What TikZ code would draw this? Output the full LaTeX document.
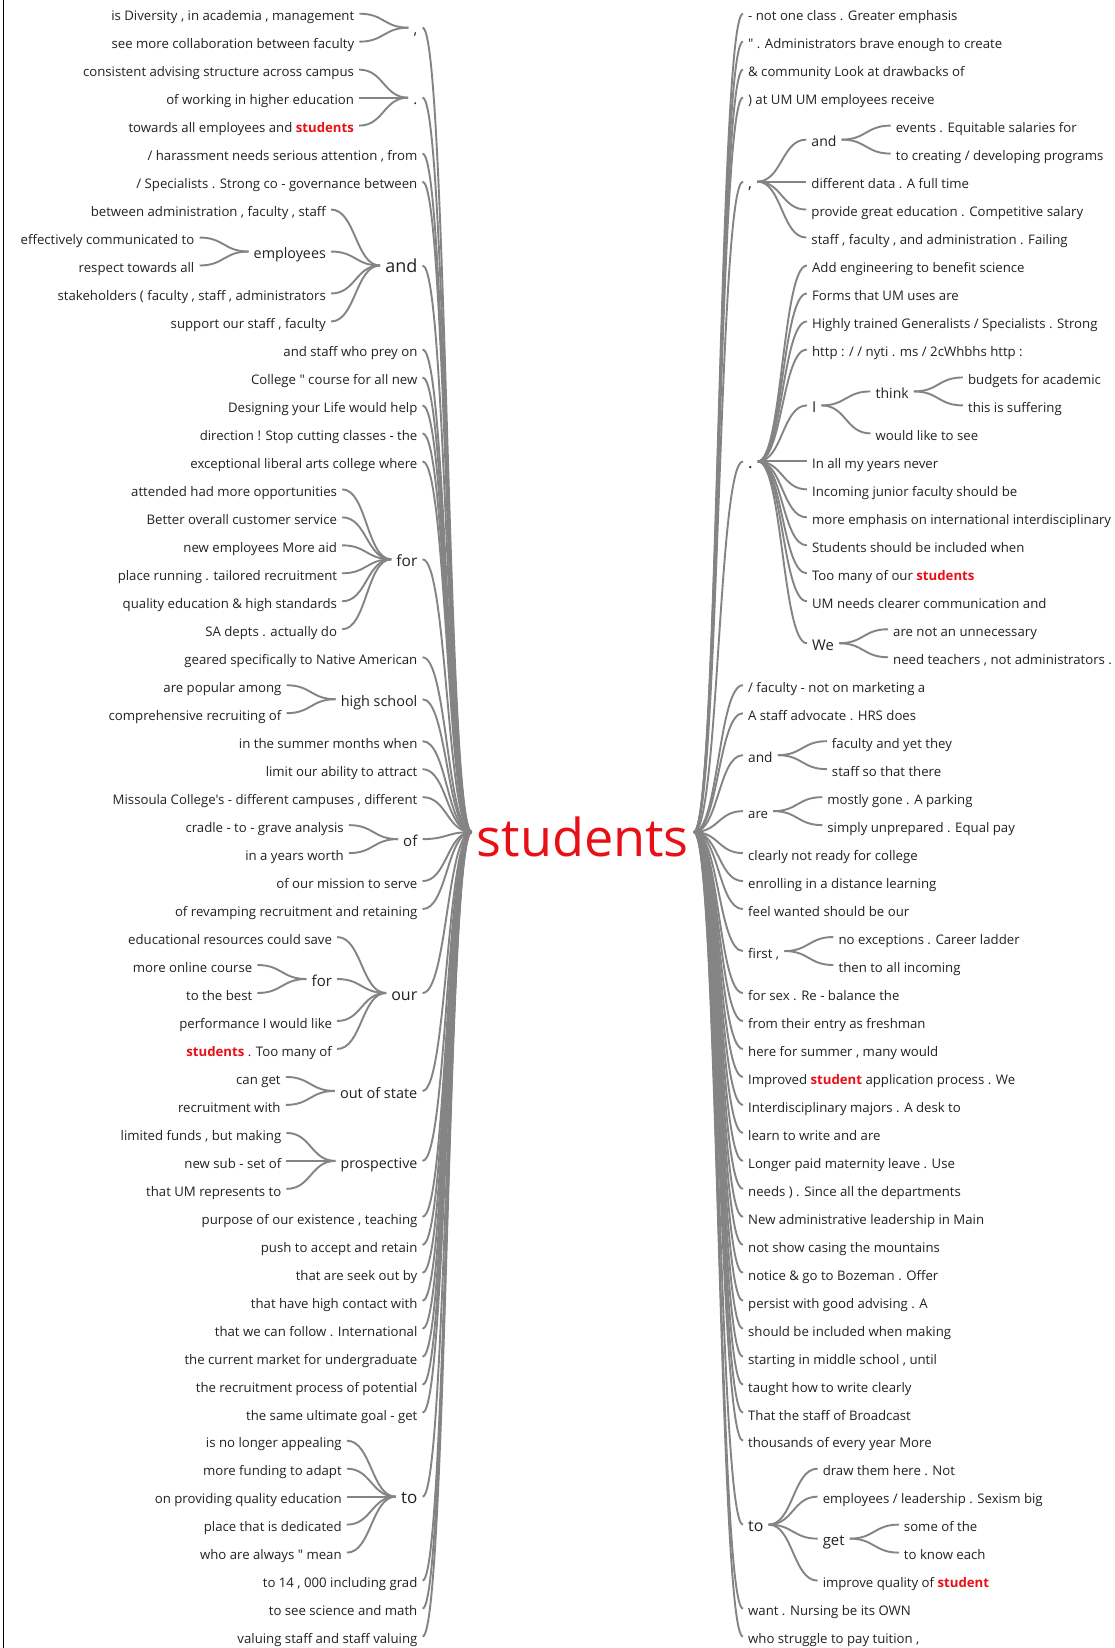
\documentclass[tikz,border=0pt]{standalone}
\usepackage{fontspec}
\setmainfont{Open Sans}[Ligatures=TeXOff]
\usetikzlibrary{calc}

\definecolor{ink}{RGB}{34,34,34}
\definecolor{hotred}{RGB}{232,16,22}
\definecolor{linkgray}{RGB}{132,132,132}

% horizontal gap between the boxes of a child and its parent
\newcommand\wgap{49pt}
% vertical position (connector height) of a row
\newcommand\rowy[1]{-(13.7+(#1-1)*27.98)*1pt}
% a highlighted occurrence of the key word
\newcommand\redword[1]{{\bfseries\color{hotred}#1}}
% smooth horizontal link between two anchors
\newcommand\wlink[2]{\draw[link] let \p1=(#1), \p2=(#2) in
  (\p1) .. controls ({(\x1+\x2)/2},\y1) and ({(\x1+\x2)/2},\y2) .. (\p2);}
% left branch: style, name, parent, row, text
\newcommand\wtL[5]{\path let \p1=(#3.west) in
  node[#1,anchor=east] (#2) at (\x1-\wgap,{\rowy{#4}}) {#5};
  \wlink{#2.east}{#3.west}}
% right branch: style, name, parent, row, text
\newcommand\wtR[5]{\path let \p1=(#3.east) in
  node[#1,anchor=west] (#2) at (\x1+\wgap,{\rowy{#4}}) {#5};
  \wlink{#3.east}{#2.west}}

\tikzset{
  wbase/.style={inner xsep=5pt, inner ysep=0pt, text height=14.6pt,
    text depth=0pt, text=ink},
  lf/.style={wbase, font=\fontsize{13.2}{15}\selectfont},
  md/.style={wbase, font=\fontsize{#1}{#1}\selectfont},
  rootword/.style={inner xsep=5pt, inner ysep=0pt, text height=48pt,
    text depth=0pt, text=hotred, font=\fontsize{52.2}{52}\selectfont},
  link/.style={draw=linkgray, line width=1.9pt},
}

\begin{document}
\begin{tikzpicture}
\fill[white] (0,0) rectangle (1115pt,-1648pt);
\useasboundingbox (0,0) rectangle (1115pt,-1648pt);
\draw[line width=1.6pt, black] (3.5pt,0pt) -- (3.5pt,-1648pt);

\node[rootword] (S) at (582.75pt,-832pt) {students};

% ---------- left half ----------
\wtL{md=15}{Lcomma}{S}{1.5}{,}
\wtL{lf}{l1}{Lcomma}{1}{is Diversity , in academia , management}
\wtL{lf}{l2}{Lcomma}{2}{see more collaboration between faculty}
\wtL{md=15}{Ldot}{S}{4}{.}
\wtL{lf}{l3}{Ldot}{3}{consistent advising structure across campus}
\wtL{lf}{l4}{Ldot}{4}{of working in higher education}
\wtL{lf}{l5}{Ldot}{5}{towards all employees and \redword{students}}
\wtL{lf}{l6}{S}{6}{/ harassment needs serious attention , from}
\wtL{lf}{l7}{S}{7}{/ Specialists . Strong co - governance between}
\wtL{md=18}{Land}{S}{10}{and}
\wtL{lf}{l8}{Land}{8}{between administration , faculty , staff}
\wtL{md=14.3}{Lemp}{Land}{9.5}{employees}
\wtL{lf}{l9}{Lemp}{9}{effectively communicated to}
\wtL{lf}{l10}{Lemp}{10}{respect towards all}
\wtL{lf}{l11}{Land}{11}{stakeholders ( faculty , staff , administrators}
\wtL{lf}{l12}{Land}{12}{support our staff , faculty}
\wtL{lf}{l13}{S}{13}{and staff who prey on}
\wtL{lf}{l14}{S}{14}{College " course for all new}
\wtL{lf}{l15}{S}{15}{Designing your Life would help}
\wtL{lf}{l16}{S}{16}{direction ! Stop cutting classes - the}
\wtL{lf}{l17}{S}{17}{exceptional liberal arts college where}
\wtL{md=15.5}{Lfor}{S}{20.5}{for}
\wtL{lf}{l18}{Lfor}{18}{attended had more opportunities}
\wtL{lf}{l19}{Lfor}{19}{Better overall customer service}
\wtL{lf}{l20}{Lfor}{20}{new employees More aid}
\wtL{lf}{l21}{Lfor}{21}{place running . tailored recruitment}
\wtL{lf}{l22}{Lfor}{22}{quality education \& high standards}
\wtL{lf}{l23}{Lfor}{23}{SA depts . actually do}
\wtL{lf}{l24}{S}{24}{geared specifically to Native American}
\wtL{md=14.4}{Lhs}{S}{25.5}{high school}
\wtL{lf}{l25}{Lhs}{25}{are popular among}
\wtL{lf}{l26}{Lhs}{26}{comprehensive recruiting of}
\wtL{lf}{l27}{S}{27}{in the summer months when}
\wtL{lf}{l28}{S}{28}{limit our ability to attract}
\wtL{lf}{l29}{S}{29}{Missoula College's - different campuses , different}
\wtL{md=15}{Lof}{S}{30.5}{of}
\wtL{lf}{l30}{Lof}{30}{cradle - to - grave analysis}
\wtL{lf}{l31}{Lof}{31}{in a years worth}
\wtL{lf}{l32}{S}{32}{of our mission to serve}
\wtL{lf}{l33}{S}{33}{of revamping recruitment and retaining}
\wtL{md=16}{Lour}{S}{36}{our}
\wtL{lf}{l34}{Lour}{34}{educational resources could save}
\wtL{md=15}{Lfor2}{Lour}{35.5}{for}
\wtL{lf}{l35}{Lfor2}{35}{more online course}
\wtL{lf}{l36}{Lfor2}{36}{to the best}
\wtL{lf}{l37}{Lour}{37}{performance I would like}
\wtL{lf}{l38}{Lour}{38}{\redword{students} . Too many of}
\wtL{md=14.5}{Lout}{S}{39.5}{out of state}
\wtL{lf}{l39}{Lout}{39}{can get}
\wtL{lf}{l40}{Lout}{40}{recruitment with}
\wtL{md=14.2}{Lpro}{S}{42}{prospective}
\wtL{lf}{l41}{Lpro}{41}{limited funds , but making}
\wtL{lf}{l42}{Lpro}{42}{new sub - set of}
\wtL{lf}{l43}{Lpro}{43}{that UM represents to}
\wtL{lf}{l44}{S}{44}{purpose of our existence , teaching}
\wtL{lf}{l45}{S}{45}{push to accept and retain}
\wtL{lf}{l46}{S}{46}{that are seek out by}
\wtL{lf}{l47}{S}{47}{that have high contact with}
\wtL{lf}{l48}{S}{48}{that we can follow . International}
\wtL{lf}{l49}{S}{49}{the current market for undergraduate}
\wtL{lf}{l50}{S}{50}{the recruitment process of potential}
\wtL{lf}{l51}{S}{51}{the same ultimate goal - get}
\wtL{md=17}{Lto}{S}{54}{to}
\wtL{lf}{l52}{Lto}{52}{is no longer appealing}
\wtL{lf}{l53}{Lto}{53}{more funding to adapt}
\wtL{lf}{l54}{Lto}{54}{on providing quality education}
\wtL{lf}{l55}{Lto}{55}{place that is dedicated}
\wtL{lf}{l56}{Lto}{56}{who are always " mean}
\wtL{lf}{l57}{S}{57}{to 14 , 000 including grad}
\wtL{lf}{l58}{S}{58}{to see science and math}
\wtL{lf}{l59}{S}{59}{valuing staff and staff valuing}

% ---------- right half ----------
\wtR{lf}{r1}{S}{1}{- not one class . Greater emphasis}
\wtR{lf}{r2}{S}{2}{" . Administrators brave enough to create}
\wtR{lf}{r3}{S}{3}{\& community Look at drawbacks of}
\wtR{lf}{r4}{S}{4}{) at UM UM employees receive}
\wtR{md=16}{Rcomma}{S}{7}{,}
\wtR{md=14}{Rand}{Rcomma}{5.5}{and}
\wtR{lf}{r5}{Rand}{5}{events . Equitable salaries for}
\wtR{lf}{r6}{Rand}{6}{to creating / developing programs}
\wtR{lf}{r7}{Rcomma}{7}{different data . A full time}
\wtR{lf}{r8}{Rcomma}{8}{provide great education . Competitive salary}
\wtR{lf}{r9}{Rcomma}{9}{staff , faculty , and administration . Failing}
\wtR{md=17}{Rdot}{S}{17}{.}
\wtR{lf}{r10}{Rdot}{10}{Add engineering to benefit science}
\wtR{lf}{r11}{Rdot}{11}{Forms that UM uses are}
\wtR{lf}{r12}{Rdot}{12}{Highly trained Generalists / Specialists . Strong}
\wtR{lf}{r13}{Rdot}{13}{http : / / nyti . ms / 2cWhbhs http :}
\wtR{md=15}{RI}{Rdot}{15}{I}
\wtR{md=14}{Rthink}{RI}{14.5}{think}
\wtR{lf}{r14}{Rthink}{14}{budgets for academic}
\wtR{lf}{r15}{Rthink}{15}{this is suffering}
\wtR{lf}{r16}{RI}{16}{would like to see}
\wtR{lf}{r17}{Rdot}{17}{In all my years never}
\wtR{lf}{r18}{Rdot}{18}{Incoming junior faculty should be}
\wtR{lf}{r19}{Rdot}{19}{more emphasis on international interdisciplinary}
\wtR{lf}{r20}{Rdot}{20}{Students should be included when}
\wtR{lf}{r21}{Rdot}{21}{Too many of our \redword{students}}
\wtR{lf}{r22}{Rdot}{22}{UM needs clearer communication and}
\wtR{md=14.8}{RWe}{Rdot}{23.5}{We}
\wtR{lf}{r23}{RWe}{23}{are not an unnecessary}
\wtR{lf}{r24}{RWe}{24}{need teachers , not administrators .}
\wtR{lf}{r25}{S}{25}{/ faculty - not on marketing a}
\wtR{lf}{r26}{S}{26}{A staff advocate . HRS does}
\wtR{md=13.7}{Rand2}{S}{27.5}{and}
\wtR{lf}{r27}{Rand2}{27}{faculty and yet they}
\wtR{lf}{r28}{Rand2}{28}{staff so that there}
\wtR{md=13.2}{Rare}{S}{29.5}{are}
\wtR{lf}{r29}{Rare}{29}{mostly gone . A parking}
\wtR{lf}{r30}{Rare}{30}{simply unprepared . Equal pay}
\wtR{lf}{r31}{S}{31}{clearly not ready for college}
\wtR{lf}{r32}{S}{32}{enrolling in a distance learning}
\wtR{lf}{r33}{S}{33}{feel wanted should be our}
\wtR{md=13.3}{Rfirst}{S}{34.5}{first ,}
\wtR{lf}{r34}{Rfirst}{34}{no exceptions . Career ladder}
\wtR{lf}{r35}{Rfirst}{35}{then to all incoming}
\wtR{lf}{r36}{S}{36}{for sex . Re - balance the}
\wtR{lf}{r37}{S}{37}{from their entry as freshman}
\wtR{lf}{r38}{S}{38}{here for summer , many would}
\wtR{lf}{r39}{S}{39}{Improved \redword{student} application process . We}
\wtR{lf}{r40}{S}{40}{Interdisciplinary majors . A desk to}
\wtR{lf}{r41}{S}{41}{learn to write and are}
\wtR{lf}{r42}{S}{42}{Longer paid maternity leave . Use}
\wtR{lf}{r43}{S}{43}{needs ) . Since all the departments}
\wtR{lf}{r44}{S}{44}{New administrative leadership in Main}
\wtR{lf}{r45}{S}{45}{not show casing the mountains}
\wtR{lf}{r46}{S}{46}{notice \& go to Bozeman . Offer}
\wtR{lf}{r47}{S}{47}{persist with good advising . A}
\wtR{lf}{r48}{S}{48}{should be included when making}
\wtR{lf}{r49}{S}{49}{starting in middle school , until}
\wtR{lf}{r50}{S}{50}{taught how to write clearly}
\wtR{lf}{r51}{S}{51}{That the staff of Broadcast}
\wtR{lf}{r52}{S}{52}{thousands of every year More}
\wtR{md=15.9}{Rto}{S}{55}{to}
\wtR{lf}{r53}{Rto}{53}{draw them here . Not}
\wtR{lf}{r54}{Rto}{54}{employees / leadership . Sexism big}
\wtR{md=14.9}{Rget}{Rto}{55.5}{get}
\wtR{lf}{r55}{Rget}{55}{some of the}
\wtR{lf}{r56}{Rget}{56}{to know each}
\wtR{lf}{r57}{Rto}{57}{improve quality of \redword{student}}
\wtR{lf}{r58}{S}{58}{want . Nursing be its OWN}
\wtR{lf}{r59}{S}{59}{who struggle to pay tuition ,}
\end{tikzpicture}
\end{document}
